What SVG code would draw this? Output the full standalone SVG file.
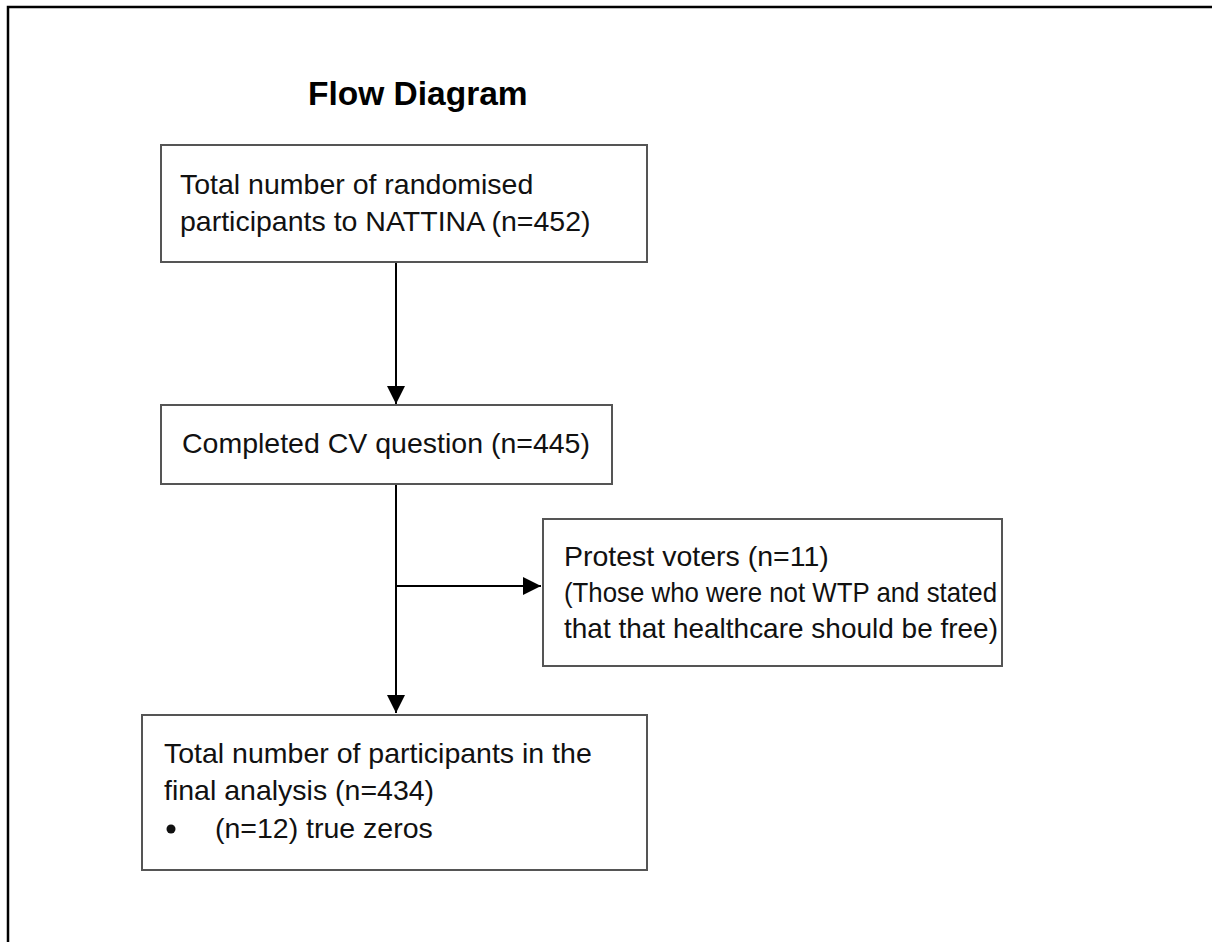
<svg xmlns="http://www.w3.org/2000/svg" width="1212" height="942" viewBox="0 0 1212 942">
<style>
.box{fill:#fff;stroke:#555;stroke-width:2}
.t{font-family:"Liberation Sans",Arial,sans-serif;font-size:28.5px;fill:#111}
.title{font-family:"Liberation Sans",Arial,sans-serif;font-size:33.5px;font-weight:bold;fill:#000}
.c{stroke:#000;stroke-width:2;fill:none}
</style>
<defs>
<marker id="ahb" viewBox="0 0 10 10" refX="10" refY="5" markerWidth="18" markerHeight="18" markerUnits="userSpaceOnUse" orient="auto">
<path d="M0,0 L10,5 L0,10 z" fill="#000"/>
</marker>
</defs>
<rect x="0" y="0" width="1212" height="942" fill="#fff"/>
<rect x="8" y="7" width="1220" height="960" fill="none" stroke="#000" stroke-width="2.5"/>
<text class="title" x="308" y="105">Flow Diagram</text>
<g id="connectors">
<line class="c" x1="396" y1="263" x2="396" y2="404" marker-end="url(#ahb)"/>
<line class="c" x1="396" y1="485" x2="396" y2="713" marker-end="url(#ahb)"/>
<line class="c" x1="396" y1="586" x2="541" y2="586" marker-end="url(#ahb)"/>
</g>
<g id="n1">
<rect class="box" x="161" y="145" width="486" height="117"/>
<text class="t" x="180" y="194">Total number of randomised</text>
<text class="t" x="180" y="231">participants to NATTINA (n=452)</text>
</g>
<g id="n2">
<rect class="box" x="161" y="405" width="451" height="79"/>
<text class="t" x="182" y="453">Completed CV question (n=445)</text>
</g>
<g id="n3">
<rect class="box" x="543" y="519" width="459" height="147"/>
<text class="t" x="564" y="566">Protest voters (n=11)</text>
<text class="t" x="564" y="602" textLength="433" lengthAdjust="spacingAndGlyphs">(Those who were not WTP and stated</text>
<text class="t" x="564" y="638" textLength="434" lengthAdjust="spacingAndGlyphs">that that healthcare should be free)</text>
</g>
<g id="n4">
<rect class="box" x="142" y="715" width="505" height="155"/>
<text class="t" x="164" y="763">Total number of participants in the</text>
<text class="t" x="164" y="800">final analysis (n=434)</text>
<circle cx="171" cy="829" r="4.5" fill="#111"/>
<text class="t" x="215" y="838">(n=12) true zeros</text>
</g>
</svg>
